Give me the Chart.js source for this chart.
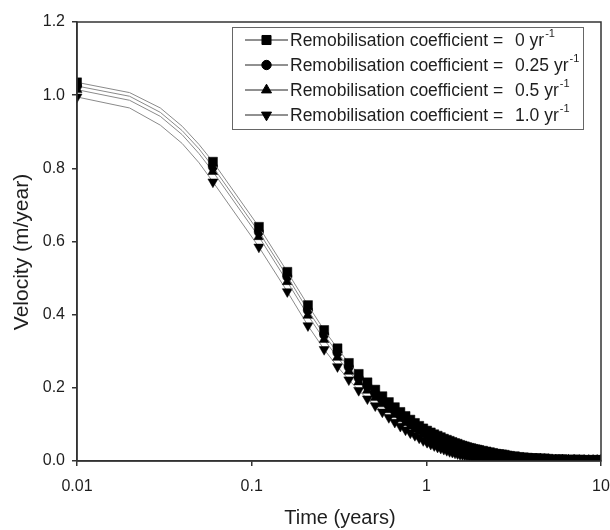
<!DOCTYPE html>
<html>
<head>
<meta charset="utf-8">
<title>Velocity vs time</title>
<script src="https://cdn.jsdelivr.net/npm/chart.js@4.4.1/dist/chart.umd.min.js"></script>
<style>
  body { margin: 0; background: #fff; }
  canvas { display: block; }
</style>
</head>
<body>
<canvas id="velocityChart" width="610" height="530"></canvas>
<script>
// Time (years) - markers every 0.05 yr, line-only vertices at 0.02-0.05
const times = [0.01, 0.02, 0.03, 0.04, 0.05, 0.06,
  0.11, 0.16, 0.21, 0.26, 0.31, 0.36, 0.41, 0.46, 0.51, 0.56, 0.61, 0.66, 0.71, 0.76, 0.81, 0.86, 0.91, 0.96, 1.01,
  1.06, 1.11, 1.16, 1.21, 1.26, 1.31, 1.36, 1.41, 1.46, 1.51, 1.56, 1.61, 1.66, 1.71, 1.76, 1.81, 1.86, 1.91, 1.96, 2.01,
  2.11, 2.21, 2.31, 2.41, 2.51, 2.61, 2.71, 2.81, 2.91, 3.01,
  3.21, 3.41, 3.61, 3.81, 4.01,
  4.26, 4.51, 4.76, 5.01,
  5.51, 6.01, 6.51, 7.01, 7.51, 8.01, 8.51, 9.01, 9.51, 9.96];
const lineOnlyTimes = [0.02, 0.03, 0.04, 0.05];

// Velocity (m/year) for each remobilisation coefficient
const vel0 = [1.035, 1.007, 0.965, 0.915, 0.865, 0.818,
  0.640, 0.517, 0.426, 0.358, 0.308, 0.268, 0.238, 0.215, 0.195, 0.177, 0.161, 0.147, 0.134, 0.123, 0.113, 0.104, 0.096, 0.089, 0.083,
  0.078, 0.073, 0.069, 0.065, 0.061, 0.058, 0.055, 0.052, 0.049, 0.047, 0.044, 0.042, 0.040, 0.038, 0.036, 0.035, 0.033, 0.032, 0.031, 0.030,
  0.028, 0.026, 0.024, 0.022, 0.020, 0.019, 0.018, 0.017, 0.015, 0.014,
  0.013, 0.011, 0.010, 0.009, 0.008,
  0.008, 0.007, 0.007, 0.006,
  0.005, 0.005, 0.004, 0.004, 0.004, 0.003, 0.003, 0.003, 0.003, 0.003];
const vel025 = [1.025, 0.997, 0.953, 0.903, 0.853, 0.804,
  0.626, 0.504, 0.412, 0.345, 0.296, 0.257, 0.227, 0.204, 0.184, 0.166, 0.151, 0.137, 0.124, 0.114, 0.104, 0.096, 0.088, 0.081, 0.075,
  0.070, 0.065, 0.061, 0.058, 0.054, 0.051, 0.048, 0.045, 0.042, 0.040, 0.038, 0.036, 0.034, 0.032, 0.031, 0.030, 0.028, 0.027, 0.026, 0.025,
  0.023, 0.022, 0.020, 0.018, 0.017, 0.016, 0.015, 0.014, 0.012, 0.011,
  0.011, 0.009, 0.008, 0.007, 0.007,
  0.007, 0.006, 0.006, 0.005,
  0.004, 0.004, 0.003, 0.003, 0.003, 0.003, 0.002, 0.002, 0.002, 0.002];
const vel05 = [1.015, 0.986, 0.942, 0.892, 0.840, 0.791,
  0.613, 0.490, 0.398, 0.332, 0.283, 0.245, 0.216, 0.193, 0.173, 0.156, 0.140, 0.127, 0.115, 0.104, 0.095, 0.087, 0.080, 0.073, 0.067,
  0.062, 0.058, 0.054, 0.050, 0.047, 0.044, 0.041, 0.038, 0.036, 0.034, 0.032, 0.030, 0.028, 0.027, 0.025, 0.024, 0.023, 0.022, 0.021, 0.020,
  0.018, 0.017, 0.015, 0.014, 0.013, 0.012, 0.011, 0.011, 0.010, 0.009,
  0.008, 0.007, 0.006, 0.006, 0.005,
  0.005, 0.005, 0.004, 0.004,
  0.003, 0.003, 0.003, 0.003, 0.002, 0.002, 0.002, 0.002, 0.002, 0.002];
const vel10 = [0.995, 0.965, 0.918, 0.868, 0.815, 0.763,
  0.585, 0.463, 0.370, 0.305, 0.258, 0.222, 0.193, 0.170, 0.151, 0.134, 0.119, 0.106, 0.095, 0.085, 0.077, 0.070, 0.063, 0.056, 0.051,
  0.046, 0.042, 0.038, 0.035, 0.032, 0.029, 0.026, 0.024, 0.022, 0.020, 0.018, 0.017, 0.016, 0.015, 0.014, 0.013, 0.012, 0.011, 0.010, 0.010,
  0.009, 0.008, 0.007, 0.006, 0.005, 0.005, 0.004, 0.004, 0.003, 0.003,
  0.003, 0.003, 0.002, 0.002, 0.002,
  0.002, 0.002, 0.001, 0.001,
  0.001, 0.001, 0.001, 0.001, 0.001, 0.001, 0.001, 0.001, 0.001, 0.001];

const coefLabels = ["0", "0.25", "0.5", "1.0"];
const xTicks = [0.01, 0.1, 1, 10];
const yTicks = [0, 0.2, 0.4, 0.6, 0.8, 1.0, 1.2];

const FONT = "'Liberation Sans', Arial, sans-serif";
const INK = "#1e1e1e";
const LINE_GREY = "#8a8a8a";

const markers = [
  { style: "rect", radius: 6.4, rotation: 0 },
  { style: "circle", radius: 4.7, rotation: 0 },
  { style: "triangle", radius: 5.8, rotation: 0 },
  { style: "triangle", radius: 5.8, rotation: 180 }
];

function makeSeries(values, i) {
  return {
    label: "Remobilisation coefficient = " + coefLabels[i] + " yr-1",
    data: times.map((t, k) => ({ x: t, y: values[k] })),
    borderColor: LINE_GREY,
    borderWidth: 1,
    pointStyle: markers[i].style,
    rotation: markers[i].rotation,
    pointRadius: ctx => lineOnlyTimes.includes(times[ctx.dataIndex]) ? 0 : markers[i].radius,
    pointBackgroundColor: "#000",
    pointBorderColor: "#000",
    pointBorderWidth: 0.5,
    tension: 0,
    clip: 0
  };
}

// Frame, axis titles and the boxed legend
const decorations = {
  id: "decorations",
  afterDraw(chart) {
    const { ctx, chartArea: a } = chart;
    ctx.save();
    ctx.strokeStyle = "#333";
    ctx.lineWidth = 1.5;
    ctx.strokeRect(a.left, a.top, a.right - a.left, a.bottom - a.top);

    ctx.fillStyle = INK;
    ctx.textAlign = "center";
    ctx.textBaseline = "middle";
    ctx.font = "20px " + FONT;
    ctx.fillText("Time (years)", 340, 518);
    ctx.save();
    ctx.translate(22, 252);
    ctx.rotate(-Math.PI / 2);
    ctx.font = "21px " + FONT;
    ctx.fillText("Velocity (m/year)", 0, 0);
    ctx.restore();

    // legend
    const bx = 232, by = 27, bw = 351, bh = 102;
    ctx.fillStyle = "#fff";
    ctx.fillRect(bx, by, bw, bh);
    ctx.strokeStyle = "#666";
    ctx.lineWidth = 1;
    ctx.strokeRect(bx + 0.5, by + 0.5, bw, bh);
    coefLabels.forEach((c, i) => {
      const yy = 40 + i * 25;
      ctx.strokeStyle = "#222";
      ctx.lineWidth = 1;
      ctx.beginPath();
      ctx.moveTo(245, yy);
      ctx.lineTo(288, yy);
      ctx.stroke();
      ctx.fillStyle = "#000";
      ctx.strokeStyle = "#000";
      Chart.helpers.drawPoint(ctx, {
        pointStyle: markers[i].style,
        rotation: markers[i].rotation,
        radius: markers[i].radius,
        borderWidth: 0.5
      }, 266.5, yy);
      ctx.fillStyle = INK;
      ctx.textAlign = "left";
      ctx.textBaseline = "middle";
      ctx.font = "17.5px " + FONT;
      ctx.fillText("Remobilisation coefficient = ", 290, yy + 1);
      const val = c + " yr";
      ctx.fillText(val, 515, yy + 1);
      const w = ctx.measureText(val).width;
      ctx.font = "11px " + FONT;
      ctx.fillText("-1", 515 + w + 1, yy - 6);
    });
    ctx.restore();
  }
};

new Chart(document.getElementById("velocityChart"), {
  type: "line",
  data: {
    datasets: [makeSeries(vel0, 0), makeSeries(vel025, 1), makeSeries(vel05, 2), makeSeries(vel10, 3)]
  },
  options: {
    responsive: false,
    animation: false,
    layout: { padding: { left: 0, top: 22, right: 9, bottom: 0 } },
    plugins: { legend: { display: false }, tooltip: { enabled: false } },
    scales: {
      x: {
        type: "logarithmic",
        min: 0.01,
        max: 10,
        afterBuildTicks: scale => { scale.ticks = xTicks.map(v => ({ value: v, major: true })); },
        afterFit: scale => {
          scale.height = 69;
          scale.paddingLeft = 0;
          scale.paddingRight = 0;
        },
        ticks: {
          color: INK,
          font: { family: FONT, size: 16 },
          padding: 11,
          maxRotation: 0,
          autoSkip: false,
          callback: v => String(v)
        },
        grid: { drawOnChartArea: false, drawTicks: true, tickLength: 5, color: "#333", lineWidth: 1.5 },
        border: { color: "#333", width: 1.5 }
      },
      y: {
        min: 0,
        max: 1.2,
        afterBuildTicks: scale => { scale.ticks = yTicks.map(v => ({ value: v })); },
        afterFit: scale => {
          scale.width = 77;
          scale.paddingTop = 0;
          scale.paddingBottom = 0;
        },
        ticks: {
          color: INK,
          font: { family: FONT, size: 16 },
          padding: 7,
          callback: v => Number(v).toFixed(1)
        },
        grid: { drawOnChartArea: false, drawTicks: true, tickLength: 5, color: "#333", lineWidth: 1.5 },
        border: { color: "#333", width: 1.5 }
      }
    }
  },
  plugins: [decorations]
});
</script>
</body>
</html>
